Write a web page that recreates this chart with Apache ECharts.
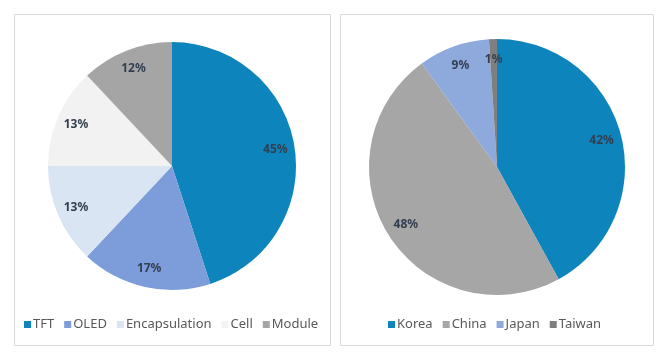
<!DOCTYPE html>
<html>
<head>
<meta charset="utf-8">
<script src="https://cdn.jsdelivr.net/npm/echarts@6/dist/echarts.min.js"></script>
<style>
  html, body { margin: 0; padding: 0; background: #fff; }
  #chart { width: 665px; height: 354px; }
</style>
</head>
<body>
<div id="chart"></div>
<script>
// left pie: process segments
var segNames = ['TFT', 'OLED', 'Encapsulation', 'Cell', 'Module'];
var segValues = [45, 17, 13, 13, 12];
var segColors = ['#0E84BC', '#7C9DD9', '#DAE5F3', '#F2F2F2', '#A5A5A5'];

// right pie: countries
var countryNames = ['Korea', 'China', 'Japan', 'Taiwan'];
var countryValues = [42, 48, 9, 1];
var countryColors = ['#0E84BC', '#A6A6A6', '#8EA9DB', '#7F7F7F'];

function toData(names, values) {
  return names.map(function (n, i) { return { name: n, value: values[i] }; });
}

var chart = echarts.init(document.getElementById('chart'));
var font = '"Noto Sans", "Open Sans", sans-serif';
var labelStyle = {
  show: true,
  position: 'inside',
  formatter: '{c}%',
  color: '#333F50',
  fontSize: 12,
  fontWeight: 'bold',
  fontFamily: font
};

function pieSeries(data, colors, center, r) {
  return [
    {
      type: 'pie',
      center: center,
      radius: [0, r],
      startAngle: 90,
      clockwise: true,
      silent: true,
      label: { show: false },
      labelLine: { show: false },
      color: colors,
      itemStyle: { borderWidth: 0 },
      data: data
    },
    {
      // label-only ring so the percentages sit near the rim
      type: 'pie',
      center: center,
      radius: [r * 0.64, r],
      startAngle: 90,
      clockwise: true,
      silent: true,
      label: labelStyle,
      labelLine: { show: false },
      itemStyle: { color: 'rgba(0,0,0,0)', borderWidth: 0 },
      data: data
    }
  ];
}

var legendBase = {
  orient: 'horizontal',
  top: 313,
  icon: 'rect',
  itemWidth: 7,
  itemHeight: 7,
  itemGap: 10,
  selectedMode: false,
  textStyle: { color: '#595959', fontSize: 13, fontFamily: font, padding: [0, 0, 0, -3] }
};

var option = {
  animation: false,
  graphic: [
    { type: 'rect', shape: { x: 14.5, y: 14.5, width: 316, height: 331 },
      style: { fill: '#fff', stroke: '#D9D9D9', lineWidth: 1 }, z: -10 },
    { type: 'rect', shape: { x: 340.5, y: 14.5, width: 313, height: 331 },
      style: { fill: '#fff', stroke: '#D9D9D9', lineWidth: 1 }, z: -10 }
  ],
  legend: [
    Object.assign({}, legendBase, { data: segNames, left: 19 }),
    Object.assign({}, legendBase, { data: countryNames, left: 383 })
  ],
  series: []
    .concat(pieSeries(toData(segNames, segValues), segColors, [172, 166], 124))
    .concat(pieSeries(toData(countryNames, countryValues), countryColors, [497, 167], 128))
};
chart.setOption(option);
</script>
</body>
</html>
